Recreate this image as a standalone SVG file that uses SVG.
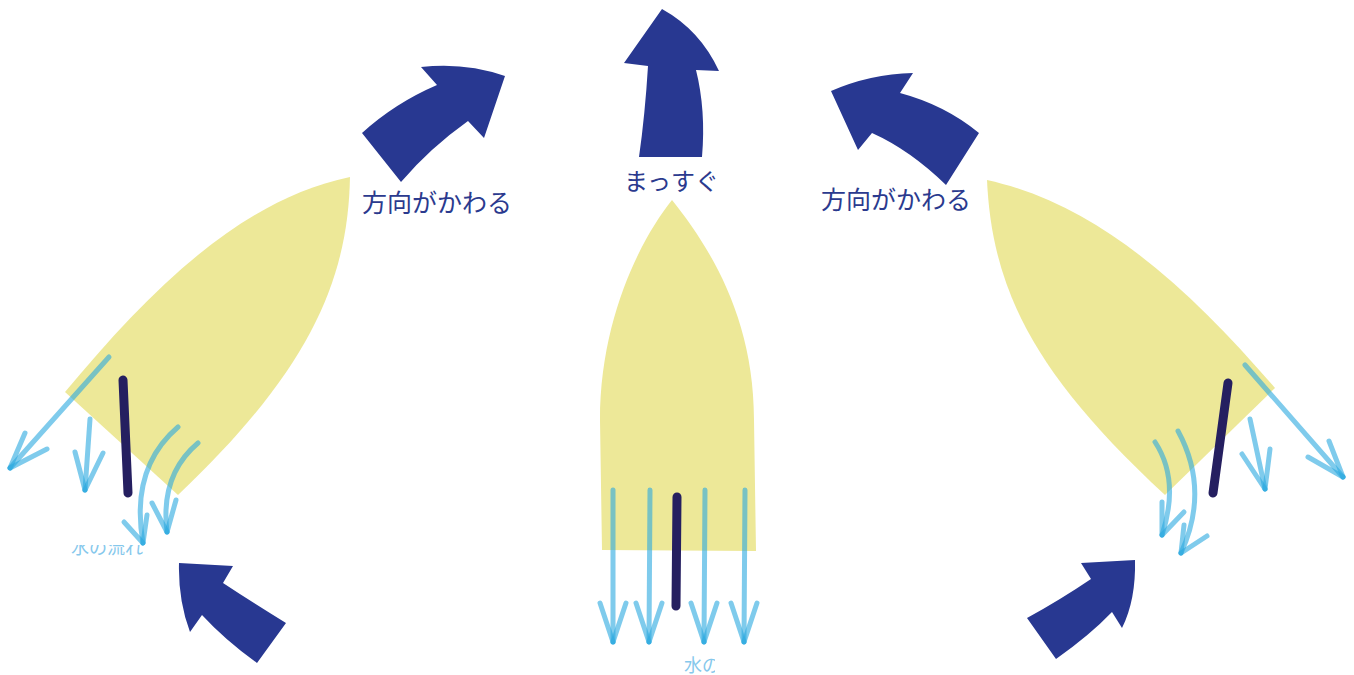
<svg xmlns="http://www.w3.org/2000/svg" width="1354" height="675" viewBox="0 0 1354 675">
  <style>
    .hull { fill: #ede898; }
    .keel { stroke: #251f60; stroke-width: 9; stroke-linecap: round; fill: none; }
    .flow { stroke: #29a8e0; stroke-width: 5; stroke-linecap: round; fill: none; opacity: 0.6; }
    .turn { fill: #283891; }
    .label { font-family: "Noto Sans CJK JP", "Noto Sans", sans-serif; font-size: 24px; fill: #2b3a8e; }
    .label.wide { font-size: 25px; }
    .note { font-family: "Noto Sans CJK JP", "Noto Sans", sans-serif; font-size: 18px; fill: #86c8ec; }
  </style>
  <defs>
    <clipPath id="clip-note-left"><rect x="60" y="545" width="100" height="20"/></clipPath>
    <clipPath id="clip-note-center"><rect x="670" y="645" width="45" height="30"/></clipPath>
  </defs>

  <rect width="1354" height="675" fill="#ffffff"/>

  <!-- boat turning left -->
  <g id="boat-left">
    <path class="hull" d="M65,392 C150,290 240,200 350,177 C348,280 310,370 178,495 Z"/>
  </g>

  <!-- boat going straight -->
  <g id="boat-center">
    <path class="hull" d="M672,200 C640,240 600,320 600,420 L602,550 L756,551 L754,420 C754,320 712,250 672,200 Z"/>
  </g>

  <!-- boat turning right -->
  <g id="boat-right">
    <path class="hull" d="M987,180 C1100,205 1190,290 1275,388 L1165,495 C1035,375 992,290 987,180 Z"/>
  </g>

  <!-- water flow arrows -->
  <g id="connectors">
    <!-- left boat -->
    <line class="flow" x1="109" y1="357" x2="10" y2="468"/>
    <line class="flow" x1="25" y1="433" x2="10" y2="468"/>
    <line class="flow" x1="47" y1="449" x2="10" y2="468"/>

    <line class="flow" x1="90" y1="419" x2="85" y2="490"/>
    <line class="flow" x1="75" y1="452" x2="85" y2="490"/>
    <line class="flow" x1="103" y1="453" x2="85" y2="490"/>

    <path class="flow" d="M178,427 Q130,468 143,543"/>
    <line class="flow" x1="124" y1="522" x2="143" y2="543"/>
    <line class="flow" x1="147" y1="515" x2="143" y2="543"/>

    <path class="flow" d="M198,443 Q160,475 167,532"/>
    <line class="flow" x1="152" y1="503" x2="167" y2="532"/>
    <line class="flow" x1="176" y1="500" x2="167" y2="532"/>

    <!-- center boat -->
    <line class="flow" x1="613" y1="490" x2="613" y2="642"/>
    <line class="flow" x1="600" y1="603" x2="613" y2="642"/>
    <line class="flow" x1="626" y1="603" x2="613" y2="642"/>

    <line class="flow" x1="650" y1="490" x2="649" y2="642"/>
    <line class="flow" x1="636" y1="603" x2="649" y2="642"/>
    <line class="flow" x1="662" y1="603" x2="649" y2="642"/>

    <line class="flow" x1="705" y1="490" x2="704" y2="642"/>
    <line class="flow" x1="691" y1="603" x2="704" y2="642"/>
    <line class="flow" x1="717" y1="603" x2="704" y2="642"/>

    <line class="flow" x1="745" y1="490" x2="744" y2="642"/>
    <line class="flow" x1="731" y1="603" x2="744" y2="642"/>
    <line class="flow" x1="757" y1="603" x2="744" y2="642"/>

    <!-- right boat -->
    <line class="flow" x1="1245" y1="365" x2="1343" y2="477"/>
    <line class="flow" x1="1329" y1="441" x2="1343" y2="477"/>
    <line class="flow" x1="1308" y1="457" x2="1343" y2="477"/>

    <line class="flow" x1="1250" y1="419" x2="1265" y2="489"/>
    <line class="flow" x1="1242" y1="454" x2="1265" y2="489"/>
    <line class="flow" x1="1270" y1="449" x2="1265" y2="489"/>

    <path class="flow" d="M1155,442 Q1180,480 1162,535"/>
    <line class="flow" x1="1162" y1="502" x2="1162" y2="535"/>
    <line class="flow" x1="1184" y1="512" x2="1162" y2="535"/>

    <path class="flow" d="M1178,431 Q1210,490 1181,553"/>
    <line class="flow" x1="1184" y1="525" x2="1181" y2="553"/>
    <line class="flow" x1="1207" y1="536" x2="1181" y2="553"/>
  </g>

  <!-- rudders -->
  <g id="keels">
    <line class="keel" x1="123" y1="380" x2="128" y2="493"/>
    <line class="keel" x1="677" y1="497" x2="676" y2="606"/>
    <line class="keel" x1="1228" y1="383" x2="1213" y2="493"/>
  </g>

  <!-- heading arrows -->
  <g id="arrow-top-left">
    <path class="turn" d="M362,133 Q395,103 437,85 L421,67 Q465,62 505,76 L484,138 L468,121 Q430,148 401,182 Z"/>
  </g>
  <g id="arrow-top-center">
    <path class="turn" d="M662,9 L624,63 L648,66 Q645,115 639,157 L702,157 Q706,110 696,70 L719,71 Q700,30 662,9 Z"/>
  </g>
  <g id="arrow-top-right">
    <path class="turn" d="M831,91 Q870,74 913,73 L900,93 Q945,105 979,133 L946,185 Q910,150 872,133 L858,150 Z"/>
  </g>
  <g id="arrow-bottom-left">
    <path class="turn" d="M179,563 L233,566 L223,583 Q258,606 286,623 L257,663 Q225,640 202,615 L190,632 Q178,600 179,563 Z"/>
  </g>
  <g id="arrow-bottom-right">
    <path class="turn" d="M1135,560 L1081,563 L1091,579 Q1060,600 1027,618 L1056,659 Q1090,635 1112,612 L1122,628 Q1136,600 1135,560 Z"/>
  </g>

  <!-- labels -->
  <g id="labels">
    <text class="label wide" x="362" y="212">方向がかわる</text>
    <text class="label" x="624" y="190">まっすぐ</text>
    <text class="label wide" x="821" y="209">方向がかわる</text>
    <text class="note" x="71" y="554" clip-path="url(#clip-note-left)">水の流れ</text>
    <text class="note" x="684" y="672" clip-path="url(#clip-note-center)">水の</text>
  </g>
</svg>
